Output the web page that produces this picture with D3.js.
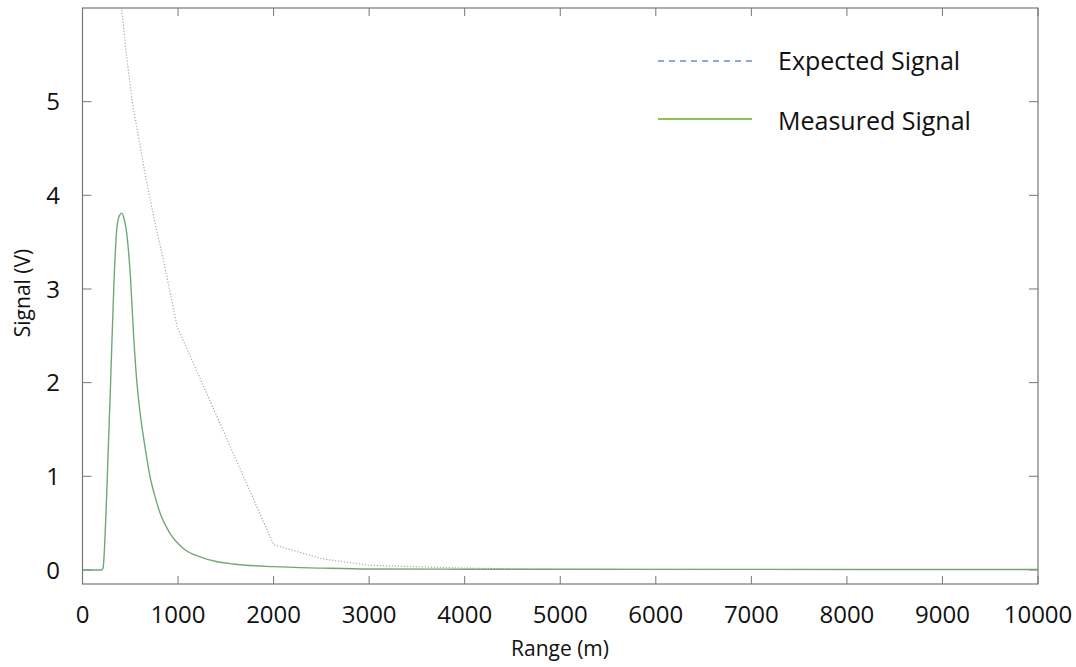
<!DOCTYPE html>
<html><head><meta charset="utf-8">
<script src="https://cdn.jsdelivr.net/npm/d3@7"></script>
<style>body{margin:0;background:#fff}svg{display:block}text{font-family:"Open Sans",sans-serif;fill:#111}</style>
</head><body><svg id="c" width="1076" height="667"></svg>
<script>
const xTicks = [0,1000,2000,3000,4000,5000,6000,7000,8000,9000,10000];
const yTicks = [0,1,2,3,4,5];
const seriesNames = ["Expected Signal","Measured Signal"];
const measuredRange = [0,200,215,246,270,295,330,358,385,410,435,462,504,535,567,600,650,706,760,811,916,1055,1230,1400,1576,2000,2500,3000,4000,6600,10000];
const measuredSignal = [0,0,0.02,0.61,1.3,2.03,3.09,3.63,3.78,3.81,3.75,3.6,3.09,2.5,2.03,1.7,1.34,1.0,0.78,0.61,0.39,0.23,0.14,0.09,0.064,0.035,0.02,0.01,0.008,0.006,0.005];
const expectedRange = [380,404,460,520,590,660,750,846,920,990,2000,2500,3000,4000,4700,6700,10000];
const expectedSignal = [6.3,6.06,5.5,5.0,4.6,4.2,3.75,3.31,2.95,2.6,0.27,0.12,0.05,0.02,0.01,0.005,0.005];

const svg = d3.select("#c");
const L=82.5, R=1038, T=8, B=584;
const x = d3.scaleLinear().domain([0,10000]).range([L,R]);
const y = d3.scaleLinear().domain([-0.15,6]).range([B,T]);

svg.append("defs").append("clipPath").attr("id","clip").append("rect")
  .attr("x",L).attr("y",T).attr("width",R-L).attr("height",B-T);

const frameCol="#777";
const g = svg.append("g");
xTicks.forEach(t=>{
  g.append("line").attr("x1",x(t)).attr("x2",x(t)).attr("y1",B).attr("y2",B-8).attr("stroke",frameCol);
  g.append("line").attr("x1",x(t)).attr("x2",x(t)).attr("y1",T).attr("y2",T+8).attr("stroke",frameCol);
  g.append("text").attr("x",x(t)).attr("y",623).attr("text-anchor","middle").attr("font-size",24).text(t);
});
yTicks.forEach(t=>{
  g.append("line").attr("x1",L).attr("x2",L+9).attr("y1",y(t)).attr("y2",y(t)).attr("stroke",frameCol);
  g.append("line").attr("x1",R).attr("x2",R-9).attr("y1",y(t)).attr("y2",y(t)).attr("stroke",frameCol);
  g.append("text").attr("x",60).attr("y",y(t)).attr("dy","0.36em").attr("text-anchor","end").attr("font-size",24).text(t);
});
svg.append("rect").attr("x",L).attr("y",T).attr("width",R-L).attr("height",B-T)
  .attr("fill","none").attr("stroke",frameCol).attr("stroke-width",1.2);

const exp = expectedRange.map((d,i)=>[d,expectedSignal[i]]);
const meas = measuredRange.map((d,i)=>[d,measuredSignal[i]]);
const plot = svg.append("g").attr("clip-path","url(#clip)");
plot.append("path").datum(exp)
  .attr("d",d3.line().x(d=>x(d[0])).y(d=>y(d[1])))
  .attr("fill","none").attr("stroke","#a8a8a8").attr("stroke-width",1.2).attr("stroke-dasharray","1.2,1.8");
plot.append("path").datum(meas)
  .attr("d",d3.line().x(d=>x(d[0])).y(d=>y(d[1])).curve(d3.curveMonotoneX))
  .attr("fill","none").attr("stroke","#6fa878").attr("stroke-width",1.4);

svg.append("text").attr("x",560).attr("y",656).attr("text-anchor","middle").attr("font-size",21).text("Range (m)");
svg.append("text").attr("transform","translate(30,293) rotate(-90)").attr("text-anchor","middle").attr("font-size",21).text("Signal (V)");

const leg = svg.append("g");
leg.append("line").attr("x1",658).attr("x2",752).attr("y1",61).attr("y2",61)
  .attr("stroke","#5b8fd9").attr("stroke-width",1.6).attr("stroke-dasharray","6,5");
leg.append("line").attr("x1",658).attr("x2",752).attr("y1",119).attr("y2",119)
  .attr("stroke","#86c45a").attr("stroke-width",2);
leg.append("text").attr("x",778).attr("y",61).attr("dy","0.36em").attr("font-size",25).text(seriesNames[0]);
leg.append("text").attr("x",778).attr("y",121).attr("dy","0.36em").attr("font-size",25).text(seriesNames[1]);
</script></body></html>
